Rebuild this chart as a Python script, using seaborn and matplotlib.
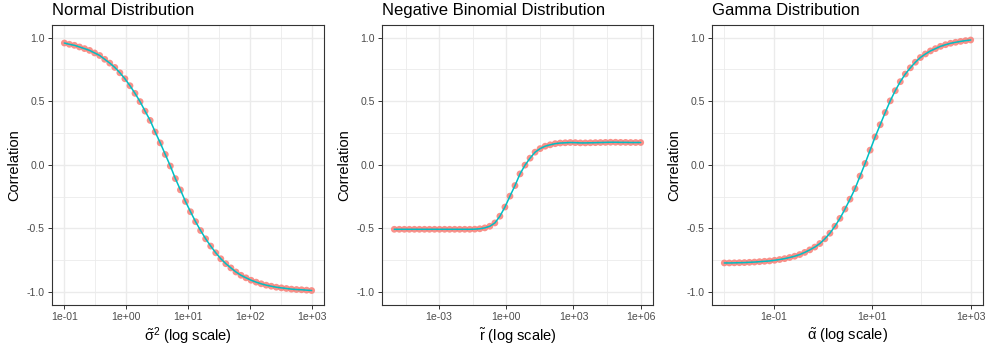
import numpy as np
import pandas as pd
import matplotlib
matplotlib.use("Agg")
import matplotlib.pyplot as plt
import seaborn as sns
from matplotlib.ticker import FixedLocator, FixedFormatter, NullFormatter

# ---------------- data ----------------
titles = ["Normal Distribution", "Negative Binomial Distribution", "Gamma Distribution"]
xlabels = [r"$\tilde{\sigma}^2$ (log scale)", r"$\tilde{\mathrm{r}}$ (log scale)", r"$\tilde{\alpha}$ (log scale)"]

# parameter grids (50 log-spaced points each)
normal_x = np.logspace(-1, 3, 50)
negbin_x = np.logspace(-5, 6, 50)
gamma_x = np.logspace(-2, 3, 50)

normal_y = [0.958, 0.948, 0.940, 0.927, 0.914, 0.900, 0.880, 0.860, 0.830, 0.800,
            0.766, 0.724, 0.677, 0.622, 0.562, 0.497, 0.422, 0.349, 0.258, 0.172,
            0.081, -0.010, -0.109, -0.198, -0.289, -0.370, -0.448, -0.518, -0.583, -0.640,
            -0.693, -0.740, -0.779, -0.812, -0.844, -0.870, -0.890, -0.909, -0.924, -0.937,
            -0.948, -0.956, -0.964, -0.969, -0.974, -0.979, -0.982, -0.984, -0.987, -0.990]

negbin_y = [-0.508, -0.508, -0.508, -0.508, -0.508, -0.508, -0.508, -0.508, -0.508, -0.508,
            -0.508, -0.508, -0.508, -0.508, -0.508, -0.508, -0.507, -0.504, -0.497, -0.484,
            -0.458, -0.405, -0.333, -0.247, -0.164, -0.072, -0.003, 0.052, 0.099, 0.127,
            0.146, 0.157, 0.166, 0.171, 0.173, 0.175, 0.174, 0.172, 0.172, 0.173,
            0.174, 0.175, 0.176, 0.177, 0.177, 0.176, 0.176, 0.175, 0.175, 0.175]

gamma_y = [-0.773, -0.773, -0.772, -0.771, -0.770, -0.768, -0.766, -0.763, -0.760, -0.757,
           -0.752, -0.746, -0.739, -0.730, -0.720, -0.707, -0.690, -0.670, -0.648, -0.620,
           -0.583, -0.539, -0.484, -0.422, -0.349, -0.271, -0.188, -0.089, 0.010, 0.115,
           0.219, 0.315, 0.411, 0.503, 0.583, 0.654, 0.714, 0.763, 0.807, 0.844,
           0.872, 0.896, 0.914, 0.932, 0.945, 0.956, 0.964, 0.971, 0.977, 0.982]

y_ticks = [-1.0, -0.5, 0.0, 0.5, 1.0]
y_ticklabels = ["-1.0", "-0.5", "0.0", "0.5", "1.0"]
y_minor = [-0.75, -0.25, 0.25, 0.75]

normal_xticks = [1e-1, 1e0, 1e1, 1e2, 1e3]
normal_xticklabels = ["1e-01", "1e+00", "1e+01", "1e+02", "1e+03"]
negbin_xticks = [1e-3, 1e0, 1e3, 1e6]
negbin_xticklabels = ["1e-03", "1e+00", "1e+03", "1e+06"]
gamma_xticks = [1e-1, 1e1, 1e3]
gamma_xticklabels = ["1e-01", "1e+01", "1e+03"]

# ---------------- style ----------------
sns.set_theme(style="white")
plt.rcParams["font.family"] = ["Liberation Sans", "DejaVu Sans"]
plt.rcParams["mathtext.fontset"] = "custom"
plt.rcParams["mathtext.rm"] = "Liberation Sans"
plt.rcParams["mathtext.it"] = "Liberation Sans"
plt.rcParams["mathtext.bf"] = "Liberation Sans:bold"
plt.rcParams["axes.unicode_minus"] = False

POINT = "#F8766D"
LINE = "#00BFC4"
GRID = "#EBEBEB"
BORDER = "#333333"
TICKTXT = "#4D4D4D"

W, H = 987, 349
fig = plt.figure(figsize=(W / 100, H / 100), dpi=100)

lefts = [52, 382, 712]
widths = [272, 271, 271]
top_px, bot_px = 25, 304.5

panels = [
    (normal_x, normal_y, normal_xticks, normal_xticklabels, (10 ** -1.2, 10 ** 3.2)),
    (negbin_x, negbin_y, negbin_xticks, negbin_xticklabels, (10 ** -5.55, 10 ** 6.55)),
    (gamma_x, gamma_y, gamma_xticks, gamma_xticklabels, (10 ** -2.25, 10 ** 3.25)),
]

for k, (xv, yv, xt, xtl, xlim) in enumerate(panels):
    ax = fig.add_axes([lefts[k] / W, 1 - bot_px / H, widths[k] / W, (bot_px - top_px) / H])
    df = pd.DataFrame({"x": xv, "y": yv})
    ax.set_xscale("log")
    sns.scatterplot(data=df, x="x", y="y", ax=ax, color=POINT, s=24, alpha=0.8,
                    edgecolor="none", linewidth=0, zorder=3)
    sns.lineplot(data=df, x="x", y="y", ax=ax, color=LINE, linewidth=1.1,
                 errorbar=None, zorder=4)
    ax.set_xlim(*xlim)
    ax.set_ylim(-1.1, 1.1)

    # major/minor ticks
    lo, hi = np.log10(xlim[0]), np.log10(xlim[1])
    logs = np.log10(xt)
    step = logs[1] - logs[0]
    mins = np.arange(logs[0] - step / 2 - 10 * step, hi + step, step)
    mins = [10 ** m for m in mins if lo < m < hi]
    ax.xaxis.set_major_locator(FixedLocator(xt))
    ax.xaxis.set_major_formatter(FixedFormatter(xtl))
    ax.xaxis.set_minor_locator(FixedLocator(mins))
    ax.xaxis.set_minor_formatter(NullFormatter())
    ax.yaxis.set_major_locator(FixedLocator(y_ticks))
    ax.yaxis.set_major_formatter(FixedFormatter(y_ticklabels))
    ax.yaxis.set_minor_locator(FixedLocator(y_minor))

    ax.grid(True, which="major", color=GRID, linewidth=1.0, zorder=0)
    ax.grid(True, which="minor", color=GRID, linewidth=0.6, zorder=0)
    ax.set_axisbelow(True)

    for sp in ax.spines.values():
        sp.set_color(BORDER)
        sp.set_linewidth(0.8)
        sp.set_visible(True)

    ax.tick_params(which="major", direction="out", length=2.6, width=0.7,
                   color=BORDER, labelcolor=TICKTXT, labelsize=7.6, pad=2.6,
                   bottom=True, left=True)
    ax.tick_params(which="minor", length=0, bottom=False, left=False)

    ax.set_title(titles[k], loc="left", fontsize=12, color="black", pad=7.5)
    ax.set_xlabel(xlabels[k], fontsize=10.5, color="black", labelpad=3)
    ax.set_ylabel("Correlation", fontsize=10.5, color="black", labelpad=4)

fig.savefig("out.png", dpi=100)
